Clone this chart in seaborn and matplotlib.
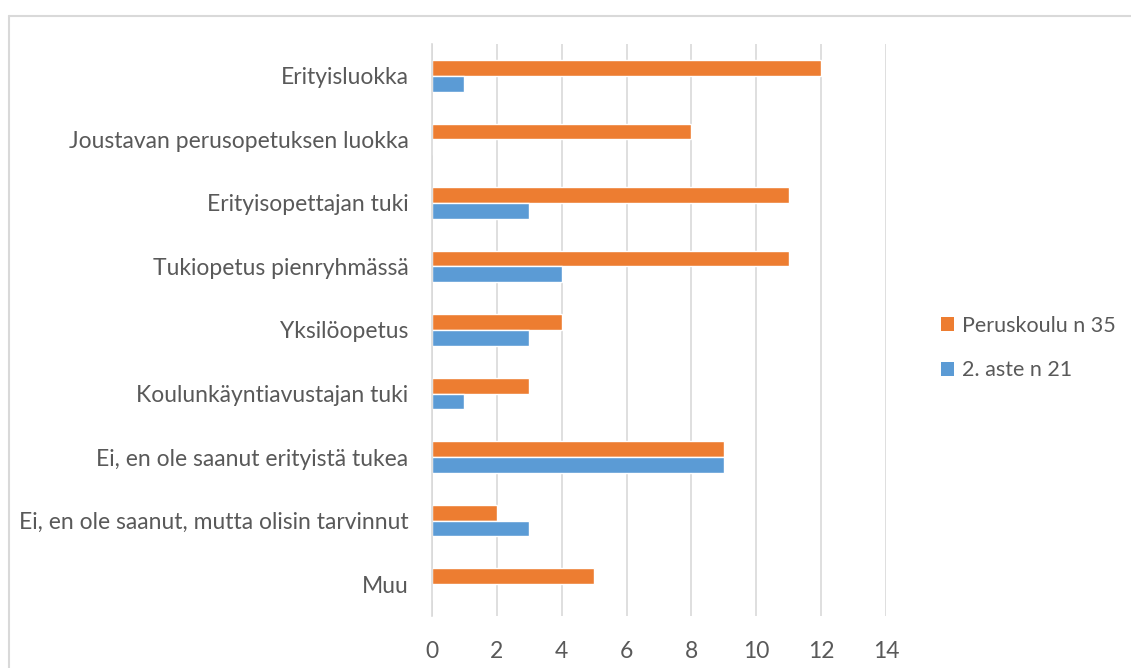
import pandas as pd
import matplotlib.pyplot as plt
import seaborn as sns
from matplotlib.lines import Line2D
from matplotlib.patches import Patch

# chart data
categories = [
    'Erityisluokka',
    'Joustavan perusopetuksen luokka',
    'Erityisopettajan tuki',
    'Tukiopetus pienryhmässä',
    'Yksilöopetus',
    'Koulunkäyntiavustajan tuki',
    'Ei, en ole saanut erityistä tukea',
    'Ei, en ole saanut, mutta olisin tarvinnut',
    'Muu',
]
peruskoulu = [12, 8, 11, 11, 4, 3, 9, 2, 5]
toinen_aste = [1, 0, 3, 4, 3, 1, 9, 3, 0]
series_names = ['Peruskoulu n 35', '2. aste n 21']
x_ticks = [0, 2, 4, 6, 8, 10, 12, 14]

colors = ['#ED7D31', '#5B9BD5']
grey_text = '#595959'
grey_line = '#D9D9D9'

sns.set_style('white')
plt.rcParams['font.family'] = ['Lato', 'DejaVu Sans']

df = pd.DataFrame({
    'Kategoria': categories * 2,
    'Arvo': peruskoulu + toinen_aste,
    'Sarja': [series_names[0]] * len(categories) + [series_names[1]] * len(categories),
})

fig = plt.figure(figsize=(11.31, 6.68), dpi=100)
ax = fig.add_axes([0.382, 0.078, 0.4014, 0.856])

sns.barplot(data=df, x='Arvo', y='Kategoria', hue='Sarja', order=categories,
            hue_order=series_names, palette=colors, orient='h', width=0.5,
            saturation=1, errorbar=None, ax=ax, legend=False)

ax.set_xlim(0, 14)
ax.set_ylim(len(categories) - 0.5, -0.5)
ax.set_xticks(x_ticks)
ax.set_xlabel('')
ax.set_ylabel('')

# grid and axes look
ax.grid(axis='x', color=grey_line, linewidth=1.2)
ax.set_axisbelow(True)
for side in ['top', 'right', 'bottom']:
    ax.spines[side].set_visible(False)
ax.spines['left'].set_color(grey_line)
ax.spines['left'].set_linewidth(1.2)

ax.set_yticks([i - 0.5 for i in range(len(categories) + 1)], minor=True)
ax.tick_params(axis='y', which='minor', length=6, color=grey_line, width=1.2)
ax.tick_params(axis='y', which='major', length=0, pad=17, labelsize=16.5, labelcolor=grey_text)
ax.tick_params(axis='x', length=0, pad=18, labelsize=16.5, labelcolor=grey_text)

# legend
handles = [Patch(facecolor=c, edgecolor='none') for c in colors]
fig.legend(handles, series_names, loc='center left', bbox_to_anchor=(0.815, 0.479),
           frameon=False, fontsize=15.5, labelcolor=grey_text, handlelength=0.6,
           handleheight=0.6, handletextpad=0.35, labelspacing=1.15)

# outer chart border (top and left only visible in crop)
fig.add_artist(Line2D([0.008, 1.0], [0.976, 0.976], transform=fig.transFigure,
                      color=grey_line, linewidth=1.5))
fig.add_artist(Line2D([0.008, 0.008], [0.0, 0.976], transform=fig.transFigure,
                      color=grey_line, linewidth=1.5))

fig.savefig('out.png', dpi=100)
